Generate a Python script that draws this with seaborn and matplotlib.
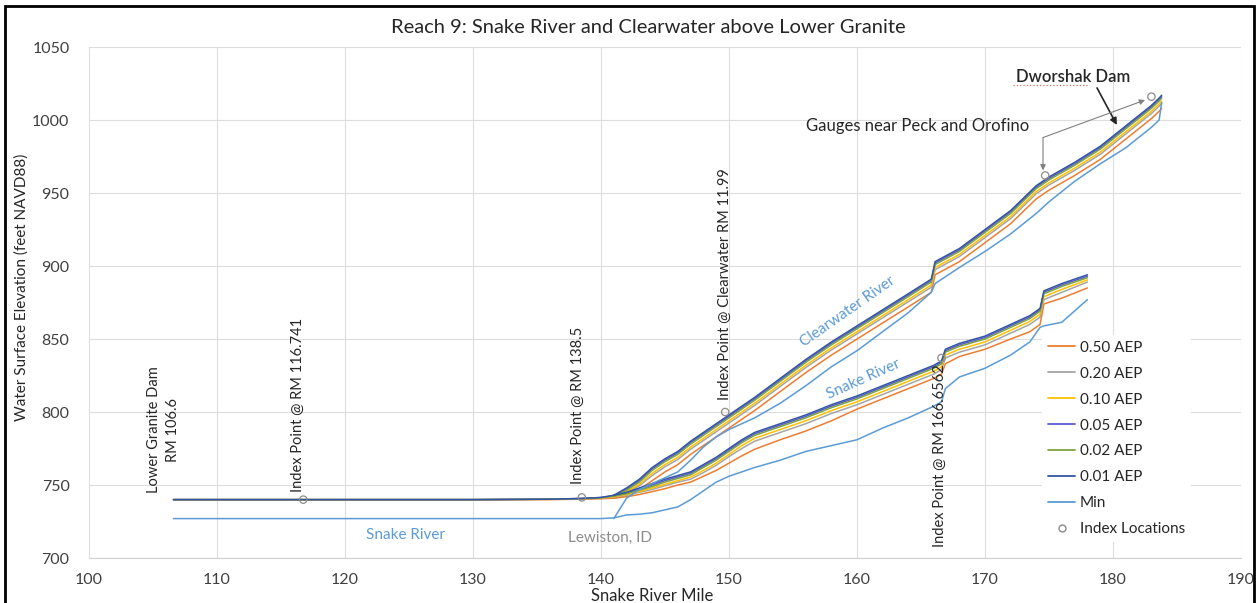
import pandas as pd
import numpy as np
import seaborn as sns
import matplotlib.pyplot as plt
from matplotlib.lines import Line2D
from matplotlib.patches import Rectangle

sns.set_style("white")
plt.rcParams['font.family'] = ['Lato', 'DejaVu Sans']


# 1. DATA

# Snake River profile (river mile vs water surface elevation)
snake_mile = [106.6, 130, 136, 138.5, 140, 141, 142, 143, 144, 145, 146, 147, 148, 149, 150, 151, 152,
              154, 156, 158, 160, 162, 164, 166, 166.6, 166.9, 168, 170, 172, 173.5, 174.3, 174.6, 176, 178]
snake_050 = [739.8, 739.8, 740, 740.3, 740.6, 741, 742, 743.5, 745.5, 747.5, 750, 752, 756, 760, 765, 770, 774.5,
             781, 787, 794, 802, 809, 816, 823, 826, 833, 838, 843, 850, 855, 860, 874, 878, 885]
snake_020 = [740, 740, 740.2, 740.5, 741, 741.8, 743, 745, 747, 749.5, 752, 754, 758.5, 763.5, 769.5, 775, 780,
             786, 792, 799, 805, 812, 819, 826, 829, 837, 841, 846, 854, 860, 865, 877, 882, 889]
snake_010 = [740, 740, 740.2, 740.6, 741.1, 742, 743.5, 745.5, 748, 750.5, 753, 755.5, 760, 765, 771, 777, 782,
             788, 794, 801, 807, 814, 821, 828, 831, 839, 843, 848, 856, 862, 867, 879, 884, 890.5]
snake_005 = [740, 740, 740.3, 740.8, 741.4, 742.7, 744.5, 747, 750, 753, 755.5, 758, 763, 768, 774, 780, 785,
             791, 797, 804, 810, 817, 824, 831, 834, 842, 846, 851, 859, 865, 870, 882, 887, 893]
snake_002 = [740, 740, 740.3, 740.7, 741.3, 742.4, 744, 746.5, 749, 752, 754.5, 757, 762, 767, 773, 779, 784,
             790, 796, 803, 809, 816, 823, 830, 833, 841, 845, 850, 858, 864, 869, 881, 886, 892]
snake_001 = [740, 740, 740.3, 740.8, 741.5, 743, 745, 748, 751, 754, 756.5, 759, 764, 769, 775, 781, 786,
             792, 798, 805, 811, 818, 825, 832, 835, 843, 847, 852, 860, 866, 871, 883, 888, 894]
snake_min = [727, 727, 727, 727, 727, 727.5, 729.5, 730, 731, 733, 735, 740, 746, 752, 756, 759, 762,
             767, 773, 777, 781, 789, 796, 804, 807, 816, 824, 830, 839, 848, 858, 859, 861.5, 877]

# Clearwater River profile (plotted on Snake River mile axis)
cw_mile = [141, 142, 143, 144, 145, 146, 147, 148, 149, 150, 151, 152, 154, 156, 158, 160, 162, 164,
           165.8, 166.1, 168, 170, 172, 174, 175, 177, 179, 181, 183, 183.6, 183.8]
cw_050 = [741, 743, 747, 753, 759, 764, 771, 777, 783, 789, 795, 801, 814, 827, 839, 850, 861, 872,
          882, 894, 903, 916, 929, 946, 952, 962, 973, 987, 1001, 1006, 1008]
cw_020 = [741.8, 745, 749.5, 756.5, 762.5, 767.5, 774.5, 780.5, 786.5, 792.5, 798.5, 804.5, 817.5, 830.5, 842.5, 853.5, 864.5, 875.5,
          885.5, 897.5, 906.5, 919.5, 932.5, 949.5, 955.5, 965.5, 976.5, 990.5, 1004.5, 1009.5, 1011.5]
cw_010 = [742, 745.5, 750.5, 758, 764, 769, 776, 782, 788, 794, 800, 806, 819, 832, 844, 855, 866, 877,
          887, 899, 908, 921, 934, 951, 957, 967, 978, 992, 1006, 1011, 1013]
cw_005 = [742.7, 747, 753, 761, 767, 772, 779, 785, 791, 797, 803, 809, 822, 835, 847, 858, 869, 880,
          890, 902, 911, 924, 937, 954, 960, 970, 981, 995, 1009, 1014, 1016]
cw_002 = [742.4, 746.5, 752, 760, 766, 771, 778, 784, 790, 796, 802, 808, 821, 834, 846, 857, 868, 879,
          889, 901, 910, 923, 936, 953, 959, 969, 980, 994, 1008, 1013, 1015]
cw_001 = [743, 748, 754, 762, 768, 773, 780, 786, 792, 798, 804, 810, 823, 836, 848, 859, 870, 881,
          891, 903, 912, 925, 938, 955, 961, 971, 982, 996, 1010, 1015, 1017]
cw_min = [727, 741, 747, 751, 755, 759, 767, 776, 783, 788, 792, 796, 806, 818, 831, 842, 855, 868,
          882, 888, 899, 910, 922, 936, 944, 958, 970, 981, 995, 1000, 1012]

series_names = ['0.50 AEP', '0.20 AEP', '0.10 AEP', '0.05 AEP', '0.02 AEP', '0.01 AEP', 'Min']
series_colors = ['#ED7D31', '#A5A5A5', '#FFC000', '#5A5FD0', '#7FA23C', '#3355A5', '#5B9BD5']

index_mile = [116.741, 138.5, 149.7, 166.6, 174.7, 183.0]
index_elev = [740, 741.5, 800, 837, 962, 1016]


# 2. LONG FORMAT TABLE

snake_profiles = [snake_050, snake_020, snake_010, snake_005, snake_002, snake_001, snake_min]
cw_profiles = [cw_050, cw_020, cw_010, cw_005, cw_002, cw_001, cw_min]

parts = []
for name, s, c in zip(series_names, snake_profiles, cw_profiles):
    parts.append(pd.DataFrame({'mile': snake_mile, 'elev': s, 'series': name, 'branch': 'Snake'}))
    parts.append(pd.DataFrame({'mile': cw_mile, 'elev': c, 'series': name, 'branch': 'Clearwater'}))
df = pd.concat(parts, ignore_index=True)


# 3. PLOT

fig = plt.figure(figsize=(12.57, 6.03), dpi=100)
ax = fig.add_axes([0.0708, 0.0746, 0.9165, 0.8474])

sns.lineplot(data=df, x='mile', y='elev', hue='series', units='branch', estimator=None,
             hue_order=series_names, palette=series_colors, sort=False, lw=1.1,
             legend=False, ax=ax)

sns.scatterplot(x=index_mile, y=index_elev, marker='o', s=28, facecolor='none',
                edgecolor='#8C8C8C', linewidth=0.9, zorder=5, ax=ax)

ax.set_xlim(100, 190)
ax.set_ylim(700, 1050)
ax.set_xticks(np.arange(100, 191, 10))
ax.set_yticks(np.arange(700, 1051, 50))
ax.grid(True, color='#DDDDDD', lw=0.8)
ax.set_axisbelow(True)
for side in ['top', 'right', 'left']:
    ax.spines[side].set_visible(False)
ax.spines['bottom'].set_color('#D0D0D0')
ax.tick_params(length=0, labelsize=11.5, labelcolor='#404040')
ax.tick_params(axis='x', pad=11)
ax.tick_params(axis='y', pad=14)

ax.set_xlabel('Snake River Mile', fontsize=12, color='#262626')
ax.set_ylabel('Water Surface Elevation (feet NAVD88)', fontsize=11, color='#262626')
ax.xaxis.set_label_coords(0.489, -0.058)
ax.yaxis.set_label_coords(-0.052, 0.53)

fig.text(0.516, 0.955, 'Reach 9: Snake River and Clearwater above Lower Granite',
         ha='center', va='center', fontsize=14.5, color='#262626')

# vertical annotation labels
vtxt = dict(rotation=90, ha='center', va='bottom', fontsize=10.5, color='#262626')
ax.text(105.8, 744.5, 'Lower Granite Dam\nRM 106.6', linespacing=1.45, **vtxt)
ax.text(116.3, 745, 'Index Point @ RM 116.741', **vtxt)
ax.text(138.2, 751, 'Index Point @ RM 138.5', **vtxt)
ax.text(149.7, 808, 'Index Point @ Clearwater RM 11.99', **vtxt)
ax.text(166.5, 707.5, 'Index Point @ RM 166.6562', **vtxt)

# river names
ax.text(159.3, 869, 'Clearwater River', rotation=35, ha='center', va='center',
        fontsize=11, color='#5B9BD5')
ax.text(160.5, 822.5, 'Snake River', rotation=24, ha='center', va='center',
        fontsize=11, color='#5B9BD5')
ax.text(124.7, 715.8, 'Snake River', ha='center', va='center', fontsize=11, color='#5B9BD5')
ax.text(140.7, 714, 'Lewiston, ID', ha='center', va='center', fontsize=11, color='#8C8C8C')

# dam and gauges
ax.text(176.9, 1029.5, 'Dworshak Dam', ha='center', va='center', fontsize=12,
        color='#262626', fontweight='semibold')
ax.plot([172.2, 178.0], [1024.3, 1024.3], color='#E07070', lw=0.9, ls=':')
ax.annotate('', xy=(180.3, 996.6), xytext=(178.75, 1022),
            arrowprops=dict(arrowstyle='-|>', color='#262626', lw=1.2,
                            mutation_scale=10, shrinkA=0, shrinkB=0))
ax.text(164.7, 996, 'Gauges near Peck and Orofino', ha='center', va='center',
        fontsize=12, color='#262626')
ax.annotate('', xy=(174.53, 965.5), xytext=(174.53, 988),
            arrowprops=dict(arrowstyle='-|>', color='#808080', lw=0.8,
                            mutation_scale=8, shrinkA=0, shrinkB=0))
ax.annotate('', xy=(182.5, 1013.7), xytext=(174.53, 988),
            arrowprops=dict(arrowstyle='-|>', color='#808080', lw=0.8,
                            mutation_scale=8, shrinkA=0, shrinkB=0))

# legend
handles = [Line2D([0], [0], color=c, lw=1.3) for c in series_colors]
handles.append(Line2D([0], [0], marker='o', ls='none', markersize=5,
                      markerfacecolor='none', markeredgecolor='#8C8C8C'))
labels = series_names + ['Index Locations']
leg = ax.legend(handles, labels, loc='upper left', bbox_to_anchor=(0.827, 0.437),
                fontsize=11, frameon=True, framealpha=1, edgecolor='none',
                facecolor='white', handlelength=1.8, handletextpad=0.3,
                labelspacing=0.78, borderpad=0.4, borderaxespad=0)
for t in leg.get_texts():
    t.set_color('#262626')

# outer frame
fig.patches.append(Rectangle((0.004, -0.05), 0.994, 1.04, transform=fig.transFigure,
                             fill=False, edgecolor='black', lw=2))

plt.savefig('out.png', dpi=100)
